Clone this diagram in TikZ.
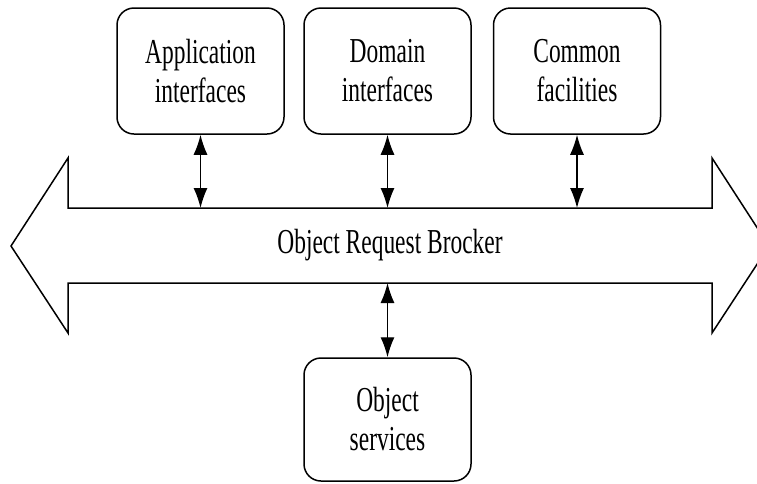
\documentclass[tikz,border=0pt]{standalone}
\usepackage{fontspec}
\setmainfont{Liberation Serif}[FakeStretch=0.67]
\usetikzlibrary{arrows.meta}
\begin{document}
\begin{tikzpicture}[x=1pt,y=-1pt,
  box/.style={draw, line width=1.5pt, rounded corners=17pt, minimum width=167pt, minimum height=126pt, align=center, font=\fontsize{35}{39}\selectfont, inner sep=0pt},
  link/.style={line width=1.4pt, {Latex[length=20pt,width=14pt]}-{Latex[length=20pt,width=14pt]}},
  label/.style={font=\fontsize{35}{39}\selectfont, inner sep=0pt}]
\useasboundingbox (0,0) rectangle (757,483);
\clip (0,0) rectangle (757,483);
% big double arrow (bus)
\draw[line width=1.5pt, line join=miter] (11,246) -- (68,158) -- (68,208) -- (712,208) -- (712,158) -- (769,246) -- (712,333) -- (712,283) -- (68,283) -- (68,333) -- cycle;
\coordinate (shafttop) at (0,208);
\coordinate (shaftbot) at (0,283);
\node[label] (orb) at (390,245) {Object Request Brocker};
% boxes
\node[box] (app) at (200.5,71) {Application\\interfaces};
\node[box] (dom) at (387.5,71) {Domain\\interfaces};
\node[box] (com) at (577,71) {Common\\facilities};
\node[box, minimum height=123pt] (obj) at (387.5,419.5) {Object\\services};
% connectors
\draw[link] (app.south) -- (app.south |- shafttop);
\draw[link] (dom.south) -- (dom.south |- shafttop);
\draw[link] (com.south) -- (com.south |- shafttop);
\draw[link] (obj.north) -- (obj.north |- shaftbot);
\end{tikzpicture}
\end{document}
